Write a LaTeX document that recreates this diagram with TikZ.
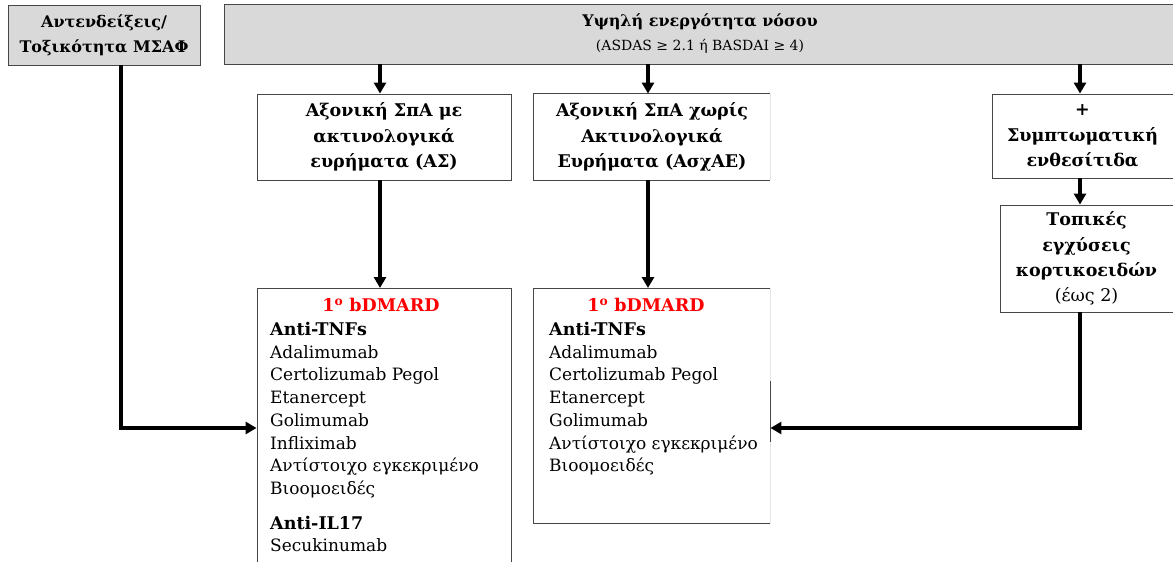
\documentclass[tikz,border=0pt]{standalone}
\usepackage{fontspec}
\setmainfont{DejaVu Serif}
\usetikzlibrary{arrows.meta}
\definecolor{boxgray}{RGB}{217,217,217}
\definecolor{edgecol}{RGB}{70,70,70}
\definecolor{faintcol}{RGB}{228,228,228}
\definecolor{hred}{RGB}{255,0,0}
\begin{document}
\begin{tikzpicture}[x=1pt,y=-1pt,
  box/.style={draw=edgecol, line width=0.9pt, fill=white, inner sep=0pt, align=center,
    font=\bfseries\fontsize{17.5}{25.3}\selectfont},
  openbox/.style={box, draw=none},
  graybox/.style={box, fill=boxgray},
  edgeline/.style={draw=edgecol, line width=0.9pt},
  faintline/.style={draw=faintcol, line width=0.9pt},
  arr/.style={line width=3.5pt, -{Triangle[width=12pt,length=11pt]}},
  hdr/.style={inner sep=0pt, text=hred, font=\bfseries\fontsize{17.5}{20}\selectfont},
  listtext/.style={inner sep=0pt, align=left, font=\fontsize{17}{22.7}\selectfont}
]
\clip (0,0) rectangle (1173,562);
\fill[white] (0,0) rectangle (1173,562);

% top boxes
\node[graybox, minimum width=192, minimum height=60, font=\bfseries\fontsize{16}{25}\selectfont] (L) at (104,35)
  {Αντενδείξεις/\\Τοξικότητα ΜΣΑΦ};
\node[graybox, minimum width=952, minimum height=60, font=\bfseries\fontsize{16}{24}\selectfont] (G) at (700,34)
  {Υψηλή ενεργότητα νόσου\\[0pt]{\mdseries\fontsize{14}{20}\selectfont (ASDAS ≥ 2.1 ή BASDAI ≥ 4)}};

% second row
\node[box, minimum width=254, minimum height=86] (A) at (384,137)
  {Αξονική ΣπΑ με\\ακτινολογικά\\ευρήματα (ΑΣ)};
\node[openbox, minimum width=236, minimum height=86] (B) at (652,137)
  {Αξονική ΣπΑ χωρίς\\Ακτινολογικά\\Ευρήματα (ΑσχΑΕ)};
\draw[edgeline] (B.north east) -- (B.north west) -- (B.south west) -- (B.south east);
\draw[faintline] (B.south east) -- (B.north east);
\node[box, minimum width=181, minimum height=84] (C) at (1082.5,136)
  {+\\Συμπτωματική\\ενθεσίτιδα};
\node[box, minimum width=173, minimum height=107] (D) at (1086.5,258.5)
  {Τοπικές\\εγχύσεις\\κορτικοειδών\\{\mdseries (έως 2)}};

% treatment boxes
\node[box, minimum width=254, minimum height=330, anchor=north] (P1) at (384,288) {};
\node[openbox, minimum width=236, minimum height=235, anchor=north] (P2) at (652,288) {};
\draw[edgeline] (P2.north east) -- (P2.north west) -- (P2.south west) -- (P2.south east);
\draw[faintline] (P2.south east) -- (P2.north east);
\draw[edgeline] (P2.east |- 0,381) -- (P2.east |- 0,442);

\node[hdr] (H1) at (381,305) {1\textsuperscript{ο} bDMARD};
\node[hdr] (H2) at (646,305) {1\textsuperscript{ο} bDMARD};

\node[listtext, anchor=north west] (T1) at (270,322)
  {{\bfseries\fontsize{17.5}{22.7}\selectfont Anti-TNFs}\\Adalimumab\\Certolizumab Pegol\\Etanercept\\Golimumab\\Infliximab\\Αντίστοιχο εγκεκριμένο\\Βιοομοειδές\\[12pt]{\bfseries\fontsize{17.5}{22.7}\selectfont Anti-IL17}\\Secukinumab};
\node[listtext, anchor=north west] (T2) at (549,322)
  {{\bfseries\fontsize{17.5}{22.7}\selectfont Anti-TNFs}\\Adalimumab\\Certolizumab Pegol\\Etanercept\\Golimumab\\Αντίστοιχο εγκεκριμένο\\Βιοομοειδές};

% connectors
\draw[arr] (G.south -| 380,0) -- (A.north -| 380,0);
\draw[arr] (G.south -| 648,0) -- (B.north -| 648,0);
\draw[arr] (G.south -| 1080,0) -- (C.north -| 1080,0);
\draw[arr] (A.south -| 380,0) -- (P1.north -| 380,0);
\draw[arr] (B.south -| 648,0) -- (P2.north -| 648,0);
\draw[arr] (C.south -| 1080,0) -- (D.north -| 1080,0);
\draw[arr] (D.south -| 1080,0) |- (P2.east |- 0,428);
\draw[arr] (L.south -| 121,0) |- (P1.west |- 0,428);
\end{tikzpicture}
\end{document}
